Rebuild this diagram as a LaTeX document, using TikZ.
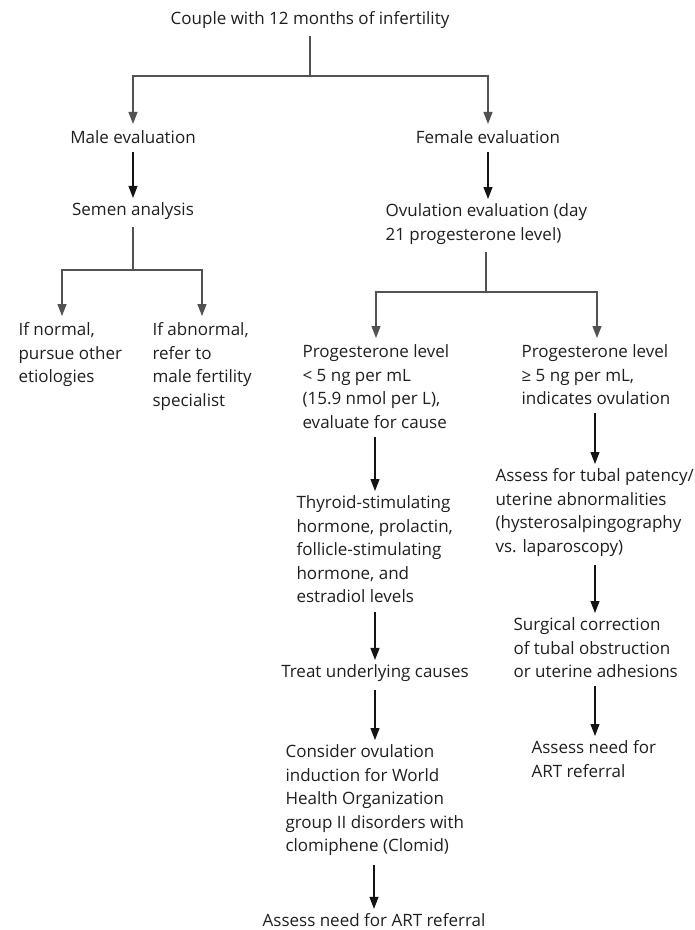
\documentclass[tikz,border=0pt]{standalone}
\usepackage{fontspec}
\setmainfont{Open Sans}
\usepackage{tikz}
\usetikzlibrary{arrows.meta, positioning, calc}

\newcommand{\flowfont}{\fontsize{17}{23.6}\selectfont}

\begin{document}
\begin{tikzpicture}[x=1pt, y=-1pt, >={Triangle[length=12pt,width=9pt]}, line width=1.1pt,
  font=\flowfont, text=black!88,
  every node/.style={inner sep=0pt},
  blk/.style={anchor=north west, align=left},
  branch/.style={draw=black!68, shorten <=7pt},
  flow/.style={->, draw=black!92, shorten <=8pt, shorten >=4pt}]
  \useasboundingbox (0,0) rectangle (695,930);
  % --- top ---
  \node (couple) at (310,20) {Couple with 12 months of infertility};
  \node (male)   at (133,137) {Male evaluation};
  \node (female) at (488,137) {Female evaluation};
  \coordinate (j0) at (310,76);
  \draw[branch] (couple.south) -- (j0);
  \draw[branch, ->, shorten <=0pt, shorten >=6pt] (j0) -| (male.north);
  \draw[branch, ->, shorten <=0pt, shorten >=6pt] (j0) -| (female.north);
  % --- male side ---
  \node (semen) at (133,211) {Semen analysis};
  \node[blk] (normal)   at (18,322)  {If normal,\\pursue other\\etiologies};
  \node[blk] (abnormal) at (152,322) {If abnormal,\\refer to\\male fertility\\specialist};
  \draw[flow] (male.south) -- (semen.north);
  \coordinate (j1) at (133,270);
  \draw[branch] (semen.south) -- (j1);
  \draw[branch, ->, shorten <=0pt, shorten >=6pt] (j1) -| ([xshift=44pt]normal.north west);
  \draw[branch, ->, shorten <=0pt, shorten >=6pt] (j1) -| ([xshift=50pt]abnormal.north west);
  % --- female side ---
  \node[blk] (ovul) at (385,203) {Ovulation evaluation (day\\21 progesterone level)};
  \draw[flow] (female.south) -- (female.south |- ovul.north);
  \node[blk] (proglow)  at (302,344) {Progesterone level\\< 5 ng per mL\\(15.9 nmol per L),\\evaluate for cause};
  \node[blk] (proghigh) at (521,344) {Progesterone level\\≥ 5 ng per mL,\\indicates ovulation};
  \coordinate (j2) at (486,292);
  \draw[branch] (j2 |- ovul.south) -- (j2);
  \draw[branch, ->, shorten <=0pt, shorten >=6pt] (j2) -| ([xshift=74pt]proglow.north west);
  \draw[branch, ->, shorten <=0pt, shorten >=6pt] (j2) -| ([xshift=76pt]proghigh.north west);
  % --- low progesterone ---
  \node[blk] (thyroid)  at (296,495) {Thyroid-stimulating\\hormone, prolactin,\\follicle-stimulating\\hormone, and\\estradiol levels};
  \node (treat) at (375,673) {Treat underlying causes};
  \node[blk] (consider) at (285,744) {Consider ovulation\\induction for World\\Health Organization\\group II disorders with\\clomiphene (Clomid)};
  \node (artleft) at (374,920) {Assess need for ART referral};
  \coordinate (l) at (375,0);
  \draw[flow] (l |- proglow.south) -- (l |- thyroid.north);
  \draw[flow] (l |- thyroid.south) -- (treat.north);
  \draw[flow] (treat.south) -- (l |- consider.north);
  \draw[flow] (artleft.north |- consider.south) -- (artleft.north);
  % --- normal progesterone ---
  \node[blk] (tubal)    at (495,468) {Assess for tubal patency/\\uterine abnormalities\\(hysterosalpingography\\vs. laparoscopy)};
  \node[blk] (surgical) at (513,617) {Surgical correction\\of tubal obstruction\\or uterine adhesions};
  \node[blk] (artright) at (531,740) {Assess need for\\ART referral};
  \coordinate (r) at (595,0);
  \draw[flow] (r |- proghigh.south) -- (r |- tubal.north);
  \draw[flow] (r |- tubal.south) -- (r |- surgical.north);
  \draw[flow] (r |- surgical.south) -- (r |- artright.north);
\end{tikzpicture}
\end{document}
